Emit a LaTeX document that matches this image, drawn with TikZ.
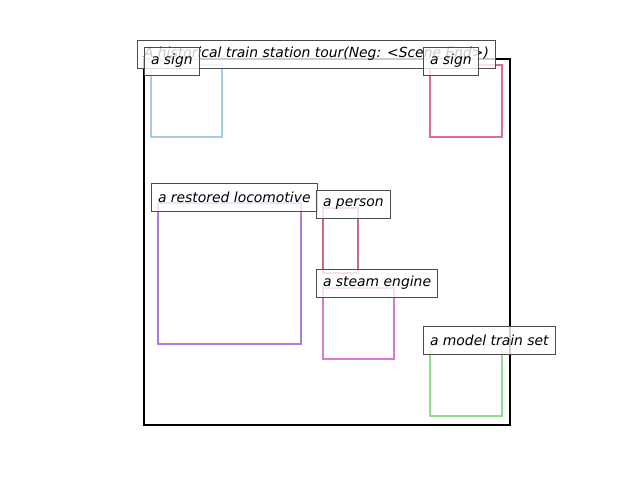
\documentclass[tikz,border=0pt]{standalone}
\usepackage{fontspec}
\setmainfont{DejaVu Sans}
\begin{document}
\begin{tikzpicture}[x=1pt,y=-1pt,
  bbox/.style={line width=2pt},
  lab/.style={anchor=west, draw=black!70, line width=1pt, fill=white, fill opacity=0.8, text opacity=1,
    inner xsep=6.5pt, inner ysep=0pt, minimum height=28pt, font=\fontsize{13.9}{16}\selectfont\itshape}]
\useasboundingbox (0,0) rectangle (640,480);
\definecolor{cblue}{RGB}{166,206,227}
\definecolor{cred}{RGB}{218,110,140}
\definecolor{cpurple}{RGB}{172,122,228}
\definecolor{cperson}{RGB}{200,108,135}
\definecolor{csteam}{RGB}{212,122,212}
\definecolor{cgreen}{RGB}{145,222,145}
\draw[line width=2pt, black] (144,59) rectangle (510,425);
\draw[bbox, cblue] (151,65) rectangle (222,137);
\draw[bbox, cred] (430,65) rectangle (502,137);
\draw[bbox, cpurple] (158,203) rectangle (301,344);
\draw[bbox, cperson] (323,208) rectangle (358,273);
\draw[bbox, csteam] (323,288) rectangle (394,359);
\draw[bbox, cgreen] (430,345) rectangle (502,416);
\node[lab] (title) at (137,54) {A historical train station tour(Neg: <Scene End>)};
\node[lab] (sign1) at (144,61) {a sign};
\node[lab] (sign2) at (423,61) {a sign};
\node[lab] (loco) at (151,197) {a restored locomotive};
\node[lab] (person) at (316,204) {a person};
\node[lab] (steam) at (316,283) {a steam engine};
\node[lab] (model) at (423,340) {a model train set};
\end{tikzpicture}
\end{document}
